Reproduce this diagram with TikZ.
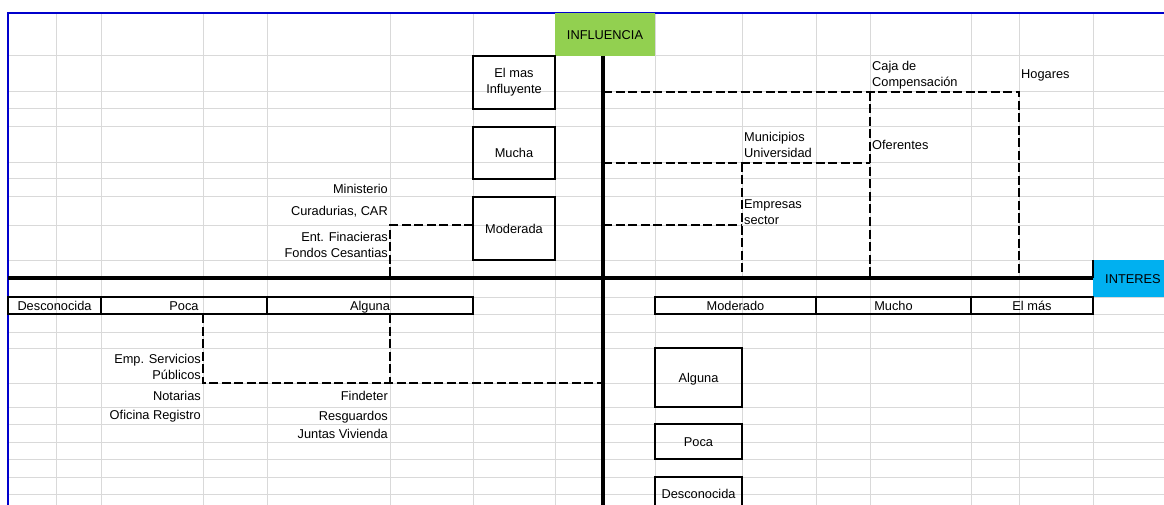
\documentclass[tikz,border=0pt]{standalone}
\usepackage{fontspec}
\setmainfont{Liberation Sans}
\definecolor{gridgray}{HTML}{D9D9D9}
\definecolor{inflgreen}{HTML}{92D050}
\definecolor{interesblue}{HTML}{00B0F0}
\definecolor{sheetblue}{HTML}{0000CC}
\newcommand{\mylbl}{\fontsize{12.8}{16}\selectfont}
\begin{document}
\begin{tikzpicture}[x=1pt,y=-1pt,
  gridline/.style={draw=gridgray,line width=1pt},
  scalebox/.style={draw=black,line width=1.5pt,inner sep=0pt,align=center,font=\mylbl},
  onel/.style={text height=9.2pt,text depth=0pt},
  lbl/.style={inner sep=0pt,font=\mylbl,text height=9.2pt,text depth=0pt},
  mlbl/.style={inner sep=0pt,font=\mylbl},
  axisline/.style={line width=3.2pt,black},
  dashline/.style={line width=2.4pt,dash pattern=on 9pt off 3.5pt,black}]
\useasboundingbox (0,0) rectangle (1164,505);
\clip (0,0) rectangle (1164,505);
% spreadsheet grid
\foreach \x in {56,101,203,267,390,473,555,603,655,742,816,870,971,1019,1093}
  \draw[gridline] (\x,13) -- (\x,505);
\foreach \y in {56,92,109,127,163,179,197,225,260,278,297,314,332,348,383,407,424,442,459,477,494}
  \draw[gridline] (8,\y) -- (1164,\y);
% sheet border
\draw[sheetblue,line width=2pt] (8,506) -- (8,13) -- (1165,13);
% header cells
\node[fill=inflgreen,inner sep=0pt,minimum width=100pt,minimum height=43pt,font=\mylbl,onel] (influencia) at (605,34.5) {INFLUENCIA};
\node[fill=interesblue,anchor=west,inner xsep=12pt,inner ysep=0pt,minimum height=37pt,font=\mylbl,onel] (interes) at (1093,278.5) {INTERES};
% axes
\coordinate (axTop) at (603,56);
\coordinate (axBot) at (603,510);
\coordinate (axL) at (8,278);
\coordinate (axR) at (1093,278);
\coordinate (axTick) at (1093,260);
\draw[axisline] (axTop) -- (axBot);
\draw[axisline] (axL) -- (axR);
\draw[black,line width=2pt] (axR) -- (axTick);
% influence scale boxes
\node[scalebox,minimum width=82pt,minimum height=53pt] (infMas) at (514,82.5) {El mas\\Influyente};
\node[scalebox,onel,minimum width=82pt,minimum height=52pt] (infMucha) at (514,153) {Mucha};
\node[scalebox,onel,minimum width=82pt,minimum height=63pt] (infModerada) at (514,228.5) {Moderada};
\node[scalebox,onel,minimum width=87pt,minimum height=59pt] (inflAlguna) at (698.5,377.5) {Alguna};
\node[scalebox,onel,minimum width=87pt,minimum height=35pt] (inflPoca) at (698.5,441.5) {Poca};
\node[scalebox,onel,minimum width=87pt,minimum height=34pt] (inflDesc) at (698.5,494) {Desconocida};
% interest scale boxes
\node[scalebox,onel,minimum width=93pt,minimum height=17pt] (intDesc) at (54.5,305.5) {Desconocida};
\node[scalebox,onel,minimum width=166pt,minimum height=17pt] (intPoca) at (184,305.5) {Poca};
\node[scalebox,onel,minimum width=206pt,minimum height=17pt] (intAlguna) at (370,305.5) {Alguna};
\node[scalebox,onel,minimum width=161pt,minimum height=17pt] (intModerado) at (735.5,305.5) {Moderado};
\node[scalebox,onel,minimum width=155pt,minimum height=17pt] (intMucho) at (893.5,305.5) {Mucho};
\node[scalebox,onel,minimum width=122pt,minimum height=17pt] (intMas) at (1032,305.5) {El más};
% dashed region boundaries
\coordinate (r1a) at (603,92);  \coordinate (r1b) at (1019,92);  \coordinate (r1c) at (1019,278);
\coordinate (r1d) at (870,92);  \coordinate (r1e) at (870,278);
\coordinate (r2a) at (603,163); \coordinate (r2b) at (870,163);
\coordinate (r2c) at (742,163); \coordinate (r2d) at (742,278);
\coordinate (r3a) at (603,225); \coordinate (r3b) at (742,225);
\coordinate (l1a) at (473,225); \coordinate (l1b) at (390,225); \coordinate (l1c) at (390,278);
\coordinate (b1a) at (390,314); \coordinate (b1b) at (390,383);
\coordinate (b2a) at (203,314); \coordinate (b2b) at (203,383); \coordinate (b2c) at (603,383);
\draw[dashline] (r1a) -- (r1b) -- (r1c);
\draw[dashline] (r1d) -- (r1e);
\draw[dashline] (r2a) -- (r2b);
\draw[dashline] (r2c) -- (r2d);
\draw[dashline] (r3a) -- (r3b);
\draw[dashline] (l1a) -- (l1b) -- (l1c);
\draw[dashline] (b1a) -- (b1b);
\draw[dashline] (b2a) -- (b2b) -- (b2c);
% actor labels
\node[mlbl,anchor=west,align=left] (caja) at (872,75) {Caja de\\Compensación};
\node[lbl,anchor=west] (hogares) at (1021,74) {Hogares};
\node[mlbl,anchor=west,align=left] (municipios) at (744,145) {Municipios\\Universidad};
\node[lbl,anchor=west] (oferentes) at (872,145) {Oferentes};
\node[mlbl,anchor=west,align=left] (empresas) at (744,212) {Empresas\\sector};
\node[lbl,anchor=east] (ministerio) at (388,189) {Ministerio};
\node[lbl,anchor=east] (curadurias) at (388,211) {Curadurias, CAR};
\node[mlbl,anchor=east,align=right] (entfin) at (388,245) {Ent. Finacieras\\Fondos Cesantias};
\node[mlbl,anchor=east,align=right] (empserv) at (201,366.5) {Emp. Servicios\\Públicos};
\node[lbl,anchor=east] (notarias) at (201,396) {Notarias};
\node[lbl,anchor=east] (oficina) at (201,415) {Oficina Registro};
\node[lbl,anchor=east] (findeter) at (388,396) {Findeter};
\node[lbl,anchor=east] (resguardos) at (388,416) {Resguardos};
\node[lbl,anchor=east] (juntas) at (388,434) {Juntas Vivienda};
\end{tikzpicture}
\end{document}
